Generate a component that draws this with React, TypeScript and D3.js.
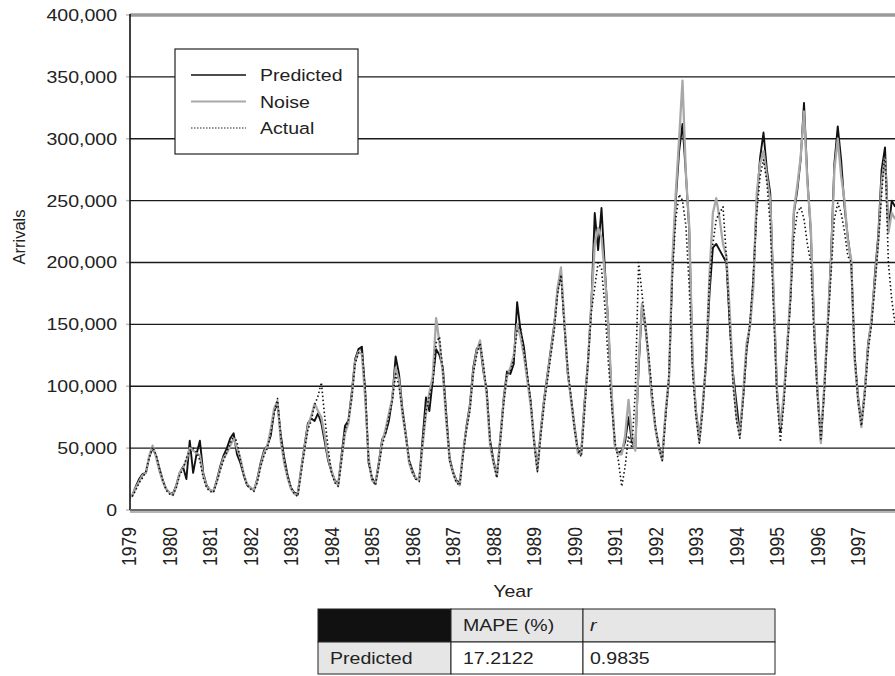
import React from "react";
import * as d3 from "d3";

// monthly arrivals in thousands, Jan..Dec of each year
const years = [1979, 1980, 1981, 1982, 1983, 1984, 1985, 1986, 1987, 1988, 1989, 1990, 1991, 1992, 1993, 1994, 1995, 1996, 1997];

const actual = [
  [9, 11, 16, 22, 26, 31, 42, 51, 45, 33, 24, 16],
  [13, 12, 18, 28, 33, 42, 48, 50, 47, 40, 26, 18],
  [15, 14, 22, 32, 40, 47, 54, 60, 55, 40, 28, 20],
  [17, 15, 22, 35, 44, 50, 62, 78, 90, 58, 40, 27],
  [18, 13, 11, 30, 48, 65, 72, 85, 92, 103, 75, 50],
  [30, 22, 19, 40, 65, 72, 90, 118, 127, 130, 97, 40],
  [25, 20, 35, 52, 62, 75, 88, 110, 100, 80, 60, 40],
  [30, 25, 23, 55, 80, 92, 102, 135, 140, 112, 75, 40],
  [30, 22, 20, 45, 65, 80, 110, 125, 135, 118, 95, 55],
  [38, 26, 55, 85, 110, 112, 122, 145, 148, 128, 110, 88],
  [55, 31, 60, 85, 105, 125, 145, 175, 190, 150, 115, 90],
  [65, 48, 43, 80, 119, 160, 180, 200, 195, 165, 120, 85],
  [55, 40, 19, 35, 60, 50, 95, 200, 175, 150, 125, 95],
  [67, 50, 40, 75, 110, 190, 235, 255, 250, 230, 180, 110],
  [75, 54, 80, 125, 185, 215, 235, 240, 245, 205, 150, 100],
  [72, 58, 90, 130, 150, 190, 240, 270, 283, 265, 230, 160],
  [90, 55, 85, 125, 170, 220, 240, 245, 235, 215, 200, 140],
  [92, 56, 95, 145, 190, 235, 248, 240, 225, 205, 200, 125],
  [88, 68, 92, 128, 150, 180, 215, 255, 290, 200, 170, 150],
];

const noise = [
  [10, 12, 18, 23, 28, 30, 44, 52, 43, 32, 23, 17],
  [14, 12, 19, 30, 34, 40, 50, 48, 46, 44, 28, 19],
  [16, 15, 23, 33, 42, 46, 52, 58, 50, 42, 29, 21],
  [18, 16, 24, 36, 46, 52, 65, 82, 88, 55, 38, 26],
  [17, 13, 12, 32, 50, 68, 76, 86, 80, 75, 60, 42],
  [32, 23, 20, 42, 62, 70, 92, 120, 128, 126, 90, 42],
  [24, 21, 36, 55, 65, 78, 90, 115, 105, 78, 60, 38],
  [30, 26, 24, 52, 78, 95, 108, 155, 135, 110, 72, 40],
  [30, 23, 20, 48, 66, 82, 112, 128, 137, 115, 92, 52],
  [38, 27, 56, 88, 108, 115, 125, 150, 140, 125, 105, 85],
  [56, 32, 62, 88, 108, 128, 148, 180, 196, 152, 112, 88],
  [66, 46, 45, 85, 119, 167, 215, 228, 220, 190, 151, 95],
  [51, 45, 45, 60, 89, 60, 48, 120, 167, 150, 121, 90],
  [65, 50, 40, 80, 107, 202, 256, 300, 347, 272, 229, 121],
  [78, 55, 85, 121, 190, 240, 252, 235, 215, 205, 160, 105],
  [75, 60, 95, 135, 148, 180, 256, 280, 290, 270, 250, 175],
  [95, 67, 92, 130, 175, 242, 262, 285, 322, 265, 229, 148],
  [95, 54, 100, 150, 200, 275, 300, 270, 250, 218, 202, 121],
  [90, 67, 95, 132, 155, 185, 218, 265, 285, 224, 240, 235],
];

const predicted = [
  [10, 12, 19, 25, 29, 30, 43, 50, 44, 34, 24, 17],
  [14, 13, 20, 30, 35, 25, 56, 30, 45, 56, 30, 20],
  [16, 15, 24, 35, 44, 50, 58, 62, 45, 38, 28, 20],
  [18, 16, 25, 38, 48, 52, 60, 80, 86, 60, 42, 28],
  [18, 14, 13, 33, 52, 70, 74, 72, 78, 70, 55, 40],
  [31, 24, 21, 45, 68, 72, 95, 122, 130, 132, 95, 38],
  [26, 21, 38, 57, 62, 72, 90, 124, 110, 82, 62, 40],
  [32, 25, 25, 58, 91, 80, 105, 130, 125, 115, 78, 42],
  [31, 24, 22, 46, 68, 85, 115, 130, 134, 112, 96, 56],
  [40, 28, 58, 90, 112, 110, 118, 168, 145, 132, 108, 88],
  [57, 33, 64, 90, 110, 130, 150, 178, 192, 150, 110, 90],
  [68, 48, 47, 88, 120, 167, 240, 210, 244, 195, 150, 92],
  [51, 46, 48, 55, 75, 55, 50, 115, 165, 148, 120, 88],
  [66, 52, 42, 78, 105, 195, 250, 290, 312, 272, 226, 118],
  [80, 58, 85, 118, 175, 212, 215, 210, 205, 200, 150, 110],
  [86, 62, 92, 130, 150, 186, 250, 285, 305, 275, 256, 172],
  [97, 64, 90, 132, 172, 240, 258, 283, 329, 268, 225, 150],
  [96, 56, 98, 148, 205, 280, 310, 283, 245, 220, 200, 125],
  [92, 70, 96, 135, 152, 190, 222, 275, 293, 225, 250, 245],
];

const yTicks = [0, 50000, 100000, 150000, 200000, 250000, 300000, 350000, 400000];

const legendItems = [
  { name: "Predicted", stroke: "#111", width: 1.3, dash: null },
  { name: "Noise", stroke: "#a8a8a8", width: 2, dash: null },
  { name: "Actual", stroke: "#222", width: 1.2, dash: "1.5,1.5" },
];

const tableHead = ["", "MAPE (%)", "r"];
const tableRows = [["Predicted", "17.2122", "0.9835"]];

type Pt = { t: number; v: number };

const toPoints = (rows: number[][]): Pt[] =>
  rows.flatMap((vals, i) => vals.map((v, m) => ({ t: years[i] + m / 12, v: v * 1000 })));

const FONT = "'Liberation Sans', Arial, sans-serif";
const SX = 1.15;

const App = () => {
  const left = 130, right = 895, top = 15, bottom = 510;

  const x = d3.scaleLinear().domain([1979, 1997]).range([129, 858]);
  const y = d3.scaleLinear().domain([0, 400000]).range([bottom, top]);
  const fmt = d3.format(",");

  const line = d3.line<Pt>().x(d => x(d.t)).y(d => y(d.v));

  // table geometry
  const colX = [318, 451, 583, 775];
  const rowY = [609, 642, 674];

  return (
    <svg width={895} height={676} style={{ position: "absolute", left: 0, top: 0, background: "#fff" }} fontFamily={FONT}>
      <defs>
        <clipPath id="plot">
          <rect x={left} y={top} width={right - left} height={bottom - top} />
        </clipPath>
      </defs>

      {/* gridlines */}
      {yTicks.filter(t => t > 0 && t < 400000).map(t => (
        <line key={t} x1={left} x2={right} y1={y(t)} y2={y(t)} stroke="#1a1a1a" strokeWidth={1.4} />
      ))}
      {/* top frame */}
      <line x1={left} x2={right} y1={y(400000)} y2={y(400000)} stroke="#9a9a9a" strokeWidth={3.5} />

      {/* y ticks + labels */}
      {yTicks.map(t => (
        <g key={"yt" + t}>
          <line x1={126} x2={left} y1={y(t)} y2={y(t)} stroke="#bbb" strokeWidth={1.5} />
          <text transform={`translate(117,${y(t)}) scale(${SX},1)`} textAnchor="end" dy="0.35em" fontSize={17} fill="#222">
            {fmt(t)}
          </text>
        </g>
      ))}

      {/* series */}
      <g clipPath="url(#plot)" fill="none" strokeLinejoin="round">
        <path d={line(toPoints(predicted)) || ""} stroke="#111" strokeWidth={1.9} />
        <path d={line(toPoints(noise)) || ""} stroke="#a8a8a8" strokeWidth={2.3} />
        <path d={line(toPoints(actual)) || ""} stroke="#111" strokeWidth={1.6} strokeDasharray="1.5,2.5" />
      </g>

      {/* axes */}
      <line x1={left} x2={left} y1={top - 1} y2={bottom} stroke="#111" strokeWidth={1.6} />
      <line x1={left} x2={right} y1={bottom + 1} y2={bottom + 1} stroke="#b5b5b5" strokeWidth={4} />
      <line x1={left} x2={right} y1={bottom} y2={bottom} stroke="#222" strokeWidth={1.2} />

      {/* x labels */}
      {years.map(yr => (
        <text key={yr} transform={`translate(${x(yr) + 7},566) scale(${SX},1) rotate(-90)`} fontSize={17.5} fill="#222">
          {yr}
        </text>
      ))}
      <text transform={`translate(513,597) scale(${SX},1)`} textAnchor="middle" fontSize={17} fill="#222">Year</text>
      <text transform="translate(25,237) rotate(-90)" textAnchor="middle" fontSize={16.5} fill="#222">Arrivals</text>

      {/* legend */}
      <rect x={175} y={49} width={183} height={105} fill="#fff" stroke="#222" strokeWidth={1.2} />
      {legendItems.map((it, i) => {
        const ly = 75 + i * 26.5;
        return (
          <g key={it.name}>
            <line x1={191} x2={246} y1={ly} y2={ly} stroke={it.stroke} strokeWidth={it.width}
              strokeDasharray={it.dash || undefined} />
            <text transform={`translate(260,${ly + 6}) scale(${SX},1)`} fontSize={17} fill="#222">{it.name}</text>
          </g>
        );
      })}

      {/* table */}
      {tableHead.map((h, c) => (
        <g key={"h" + c}>
          <rect x={colX[c]} y={rowY[0]} width={colX[c + 1] - colX[c]} height={rowY[1] - rowY[0]}
            fill={c === 0 ? "#111" : "#e6e6e6"} stroke="#222" strokeWidth={1} />
          <text transform={`translate(${colX[c] + (c === 2 ? 7 : 12)},${rowY[0] + 22}) scale(${SX},1)`}
            fontSize={17} fill="#222" fontStyle={c === 2 ? "italic" : "normal"}>{h}</text>
        </g>
      ))}
      {tableRows.map((row, r) => row.map((cell, c) => (
        <g key={"r" + r + c}>
          <rect x={colX[c]} y={rowY[r + 1]} width={colX[c + 1] - colX[c]} height={rowY[r + 2] - rowY[r + 1]}
            fill={c === 0 ? "#e6e6e6" : "#fff"} stroke="#222" strokeWidth={1} />
          <text transform={`translate(${colX[c] + (c === 2 ? 7 : 12)},${rowY[r + 1] + 22}) scale(${SX},1)`}
            fontSize={17} fill="#222">{cell}</text>
        </g>
      )))}
    </svg>
  );
};

export default App;
